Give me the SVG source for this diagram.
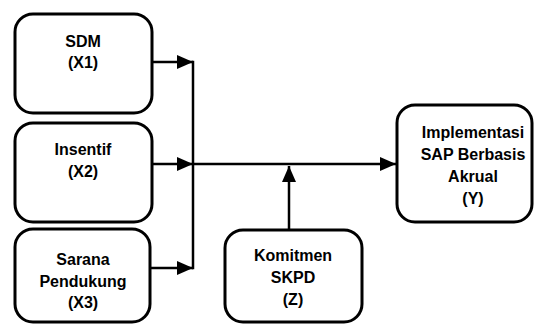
<svg xmlns="http://www.w3.org/2000/svg" width="534" height="325" viewBox="0 0 534 325">
<defs>
<marker id="arr" markerUnits="userSpaceOnUse" markerWidth="16" markerHeight="14" refX="16" refY="7" orient="auto">
<path d="M0,0 L16,7 L0,14 Z" fill="#000"/>
</marker>
<style>
.box{fill:#fff;stroke:#000;stroke-width:3}
.lbl{font-family:"Liberation Sans",Arial,sans-serif;font-weight:bold;font-size:16px;text-anchor:middle;fill:#000}
.ln{fill:none;stroke:#000;stroke-width:2.5}
</style>
</defs>
<rect width="534" height="325" fill="#fff"/>
<g id="x1">
<rect class="box" x="15" y="14" width="137" height="99" rx="18"/>
<text class="lbl" x="83" y="47">SDM</text>
<text class="lbl" x="83" y="68">(X1)</text>
</g>
<g id="x2">
<rect class="box" x="15" y="123" width="137" height="99" rx="18"/>
<text class="lbl" x="83" y="155">Insentif</text>
<text class="lbl" x="83" y="177">(X2)</text>
</g>
<g id="x3">
<rect class="box" x="15" y="229" width="135" height="93" rx="18"/>
<text class="lbl" x="83" y="265">Sarana</text>
<text class="lbl" x="83" y="287">Pendukung</text>
<text class="lbl" x="83" y="308">(X3)</text>
</g>
<g id="z">
<rect class="box" x="225" y="230" width="137" height="92" rx="18"/>
<text class="lbl" x="293" y="261">Komitmen</text>
<text class="lbl" x="293" y="283">SKPD</text>
<text class="lbl" x="293" y="305">(Z)</text>
</g>
<g id="y">
<rect class="box" x="397" y="105" width="135" height="117" rx="18"/>
<text class="lbl" x="473" y="138">Implementasi</text>
<text class="lbl" x="473" y="160">SAP Berbasis</text>
<text class="lbl" x="473" y="182">Akrual</text>
<text class="lbl" x="473" y="204">(Y)</text>
</g>
<g id="connectors">
<line class="ln" x1="152" y1="62" x2="193" y2="62" marker-end="url(#arr)"/>
<line class="ln" x1="152" y1="164" x2="193" y2="164" marker-end="url(#arr)"/>
<line class="ln" x1="150" y1="268" x2="193" y2="268" marker-end="url(#arr)"/>
<line class="ln" x1="193" y1="60.75" x2="193" y2="269.25"/>
<line class="ln" x1="193" y1="164" x2="396" y2="164" marker-end="url(#arr)"/>
<line class="ln" x1="289" y1="230" x2="289" y2="166" marker-end="url(#arr)"/>
</g>
</svg>
